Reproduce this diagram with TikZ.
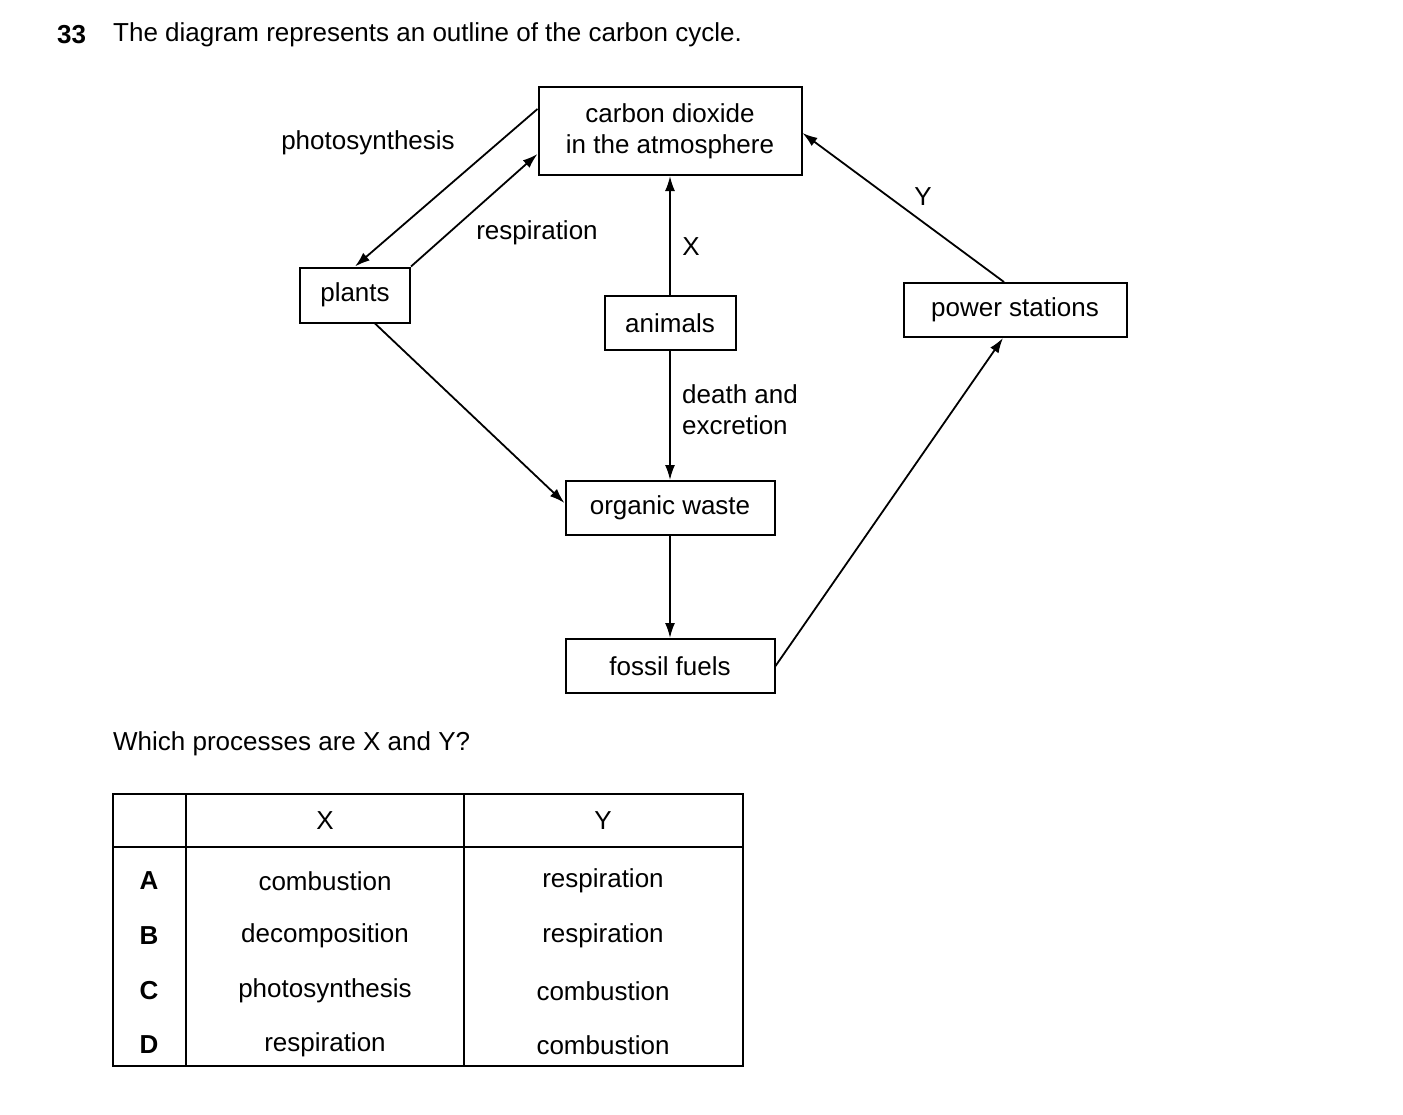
\documentclass[tikz,border=0pt]{standalone}
\usepackage{fontspec}
\setmainfont{Liberation Sans}
\usetikzlibrary{arrows.meta, positioning}

\begin{document}
\begin{tikzpicture}[
        x=1pt,
        y=-1pt,
        >={Latex[length=15pt,width=10pt]},
        every node/.style={font=\fontsize{26}{31}\selectfont, inner sep=0pt},
        box/.style={draw, line width=2pt, align=center},
        flow/.style={->, line width=1.8pt},
        grid/.style={line width=1.5pt}
    ]
    \useasboundingbox (0,0) rectangle (1403,1114);

    \node[anchor=west, font=\fontsize{26}{31}\selectfont\bfseries] (num) at (57,35) {33};
    \node[anchor=west] (title) at (113,35) {The diagram represents an outline of the carbon cycle.};

    % boxes of the cycle
    \node[box, minimum width=263pt, minimum height=88pt] (co2) at (670,131) {carbon dioxide\\in the atmosphere};
    \node[box, minimum width=110pt, minimum height=55pt] (plants) at (355,295) {plants};
    \node[box, minimum width=131pt, minimum height=54pt] (animals) at (670,323) {animals};
    \node[box, minimum width=223pt, minimum height=54pt] (power) at (1015,310) {power stations};
    \node[box, minimum width=209pt, minimum height=54pt] (waste) at (670,508) {organic waste};
    \node[box, minimum width=209pt, minimum height=54pt] (fossil) at (670,666) {fossil fuels};

    % connectors
    \draw[flow] ([yshift=-23pt]co2.north west) -- (plants.north);
    \draw[flow] (plants.north east) -- ([yshift=22pt]co2.south west);
    \draw[flow] (animals) -- (co2);
    \draw[flow] (animals) -- (waste);
    \draw[flow] ([xshift=20pt]plants.south) -- ([yshift=5pt]waste.west);
    \draw[flow] (waste) -- (fossil);
    \draw[flow] (fossil.east) -- ([xshift=-12pt]power.south);
    \draw[flow] ([xshift=-11pt]power.north) -- ([yshift=-2pt]co2.east);

    % labels
    \node (photo) at (368,143) {photosynthesis};
    \node (resp) at (537,233) {respiration};
    \node (lblx) at (691,247) {X};
    \node (lbly) at (923,197) {Y};
    \node[anchor=west, align=left] (death) at (682,410) {death and\\excretion};

    \node[anchor=west] (question) at (113,744) {Which processes are X and Y?};

    % table
    \draw[grid] (113,794) rectangle (743,1066);
    \draw[grid] (186,794) -- (186,1066);
    \draw[grid] (464,794) -- (464,1066);
    \draw[grid] (113,847) -- (743,847);
    \node (hx) at (325,821) {X};
    \node (hy) at (603,821) {Y};
    \foreach \row/\ypos/\xa/\ya in {A/881/combustion/respiration,
                                    B/936/decomposition/respiration,
                                    C/991/photosynthesis/combustion,
                                    D/1045/respiration/combustion} {
        \node[font=\fontsize{26}{31}\selectfont\bfseries] (l\row) at (149,\ypos) {\row};
        \node (x\row) at (325,\ypos) {\xa};
        \node (y\row) at (603,\ypos) {\ya};
    }
\end{tikzpicture}
\end{document}
